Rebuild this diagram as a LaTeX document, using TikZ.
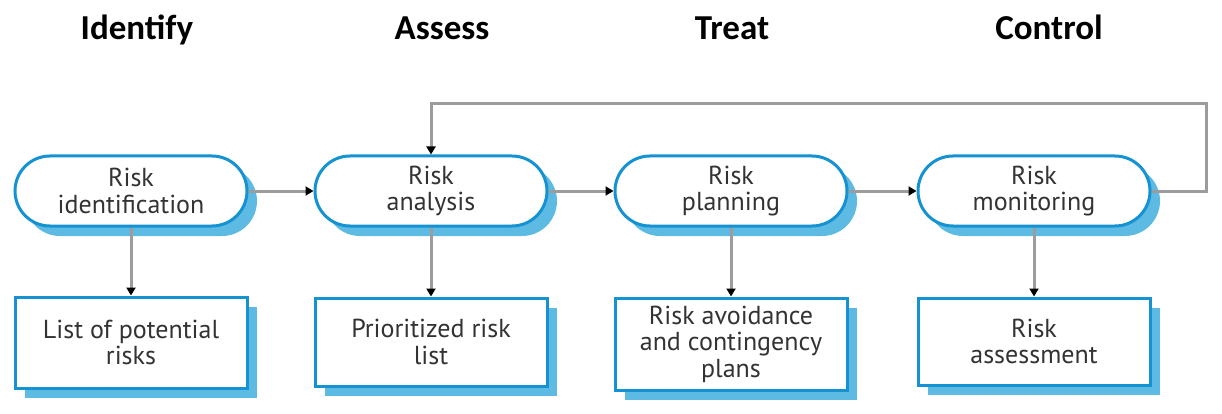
\documentclass[tikz,border=0pt]{standalone}
\usepackage{fontspec}
\setmainfont{PT Sans}
\newfontfamily\titlefont{Carlito}
\usetikzlibrary{shapes.misc,shadows,arrows.meta}
\definecolor{outl}{HTML}{1592D2}
\definecolor{shb}{HTML}{5DBBE3}
\definecolor{conng}{HTML}{9C9C9C}
\definecolor{txt}{HTML}{333333}
\tikzset{
  stad/.style={rounded rectangle, draw=outl, line width=3pt, fill=white,
    minimum width=232pt, minimum height=70pt, inner sep=0pt, align=center,
    text=txt, font=\fontsize{26}{26.5}\selectfont,
    drop shadow={shadow xshift=10pt, shadow yshift=-10pt, fill=shb, opacity=1}},
  outbox/.style={rectangle, draw=outl, line width=3pt, fill=white,
    minimum width=232pt, inner sep=0pt, align=center,
    text=txt, font=\fontsize{26}{26.5}\selectfont,
    drop shadow={shadow xshift=10pt, shadow yshift=-10pt, fill=shb, opacity=1}},
  conn/.style={draw=conng, line width=3pt, -{Triangle[length=8pt,width=9pt,color=black]}},
  ttl/.style={font=\titlefont\bfseries\fontsize{35}{40}\selectfont, anchor=base},
}
\begin{document}
\begin{tikzpicture}[x=1pt,y=-1pt]
\useasboundingbox (0,0) rectangle (1222,414);
% titles
\node[ttl] (t1) at (137,40) {Identify};
\node[ttl] (t2) at (442,40) {Assess};
\node[ttl] (t3) at (732,40) {Treat};
\node[ttl] (t4) at (1049,40) {Control};
% process stadiums
\node[stad] (s1) at (131,191) {Risk\\identification};
\node[stad] (s2) at (431,191) {Risk\\analysis};
\node[stad] (s3) at (731,191) {Risk\\planning};
\node[stad] (s4) at (1034,191) {Risk\\monitoring};
% output boxes
\node[outbox, minimum height=91pt] (r1) at (131,342.5) {List of potential\\risks};
\node[outbox, minimum height=88pt] (r2) at (431,342) {Prioritized risk\\list};
\node[outbox, minimum height=92pt] (r3) at (731,344) {Risk avoidance\\and contingency\\plans};
\node[outbox, minimum height=87pt] (r4) at (1034,341.5) {Risk\\assessment};
% connectors
\draw[conn] (s1.east) -- (s2.west);
\draw[conn] (s2.east) -- (s3.west);
\draw[conn] (s3.east) -- (s4.west);
\draw[conn] (s1.south) -- (r1.north);
\draw[conn] (s2.south) -- (r2.north);
\draw[conn] (s3.south) -- (r3.north);
\draw[conn] (s4.south) -- (r4.north);
\coordinate (fbr) at (1206,191);
\coordinate (fbt) at (1206,104);
\draw[conn] (s4.east) -- (fbr) -- (fbt) -- (s2.north |- fbt) -- (s2.north);
\end{tikzpicture}
\end{document}
